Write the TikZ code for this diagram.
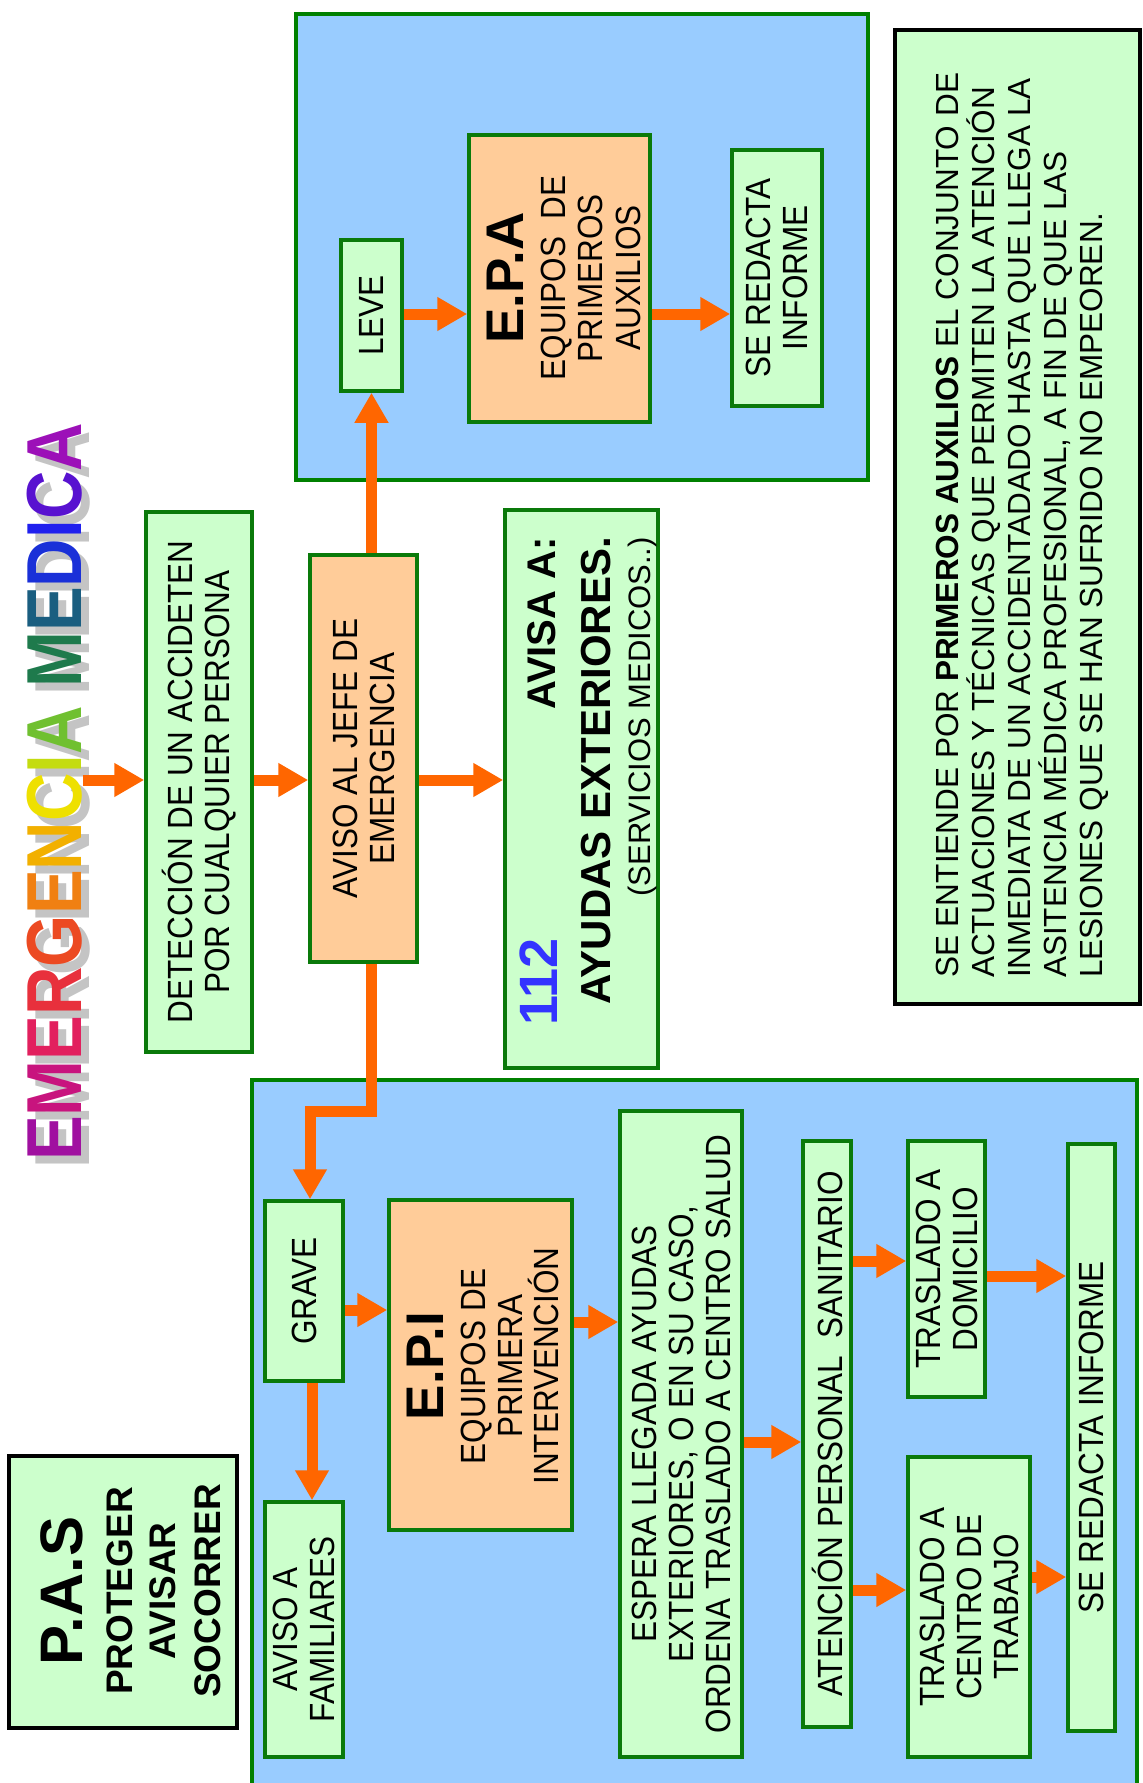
\documentclass[tikz,border=0pt]{standalone}
\usepackage{fontspec}
\setmainfont{Liberation Sans}
\newfontfamily\narrowf{Liberation Sans}[FakeStretch=0.9]
\newfontfamily\notef{Liberation Sans}[FakeStretch=0.985]
\newfontfamily\titlef{Liberation Sans}[FakeStretch=0.86]
\usetikzlibrary{arrows.meta}
\definecolor{pblue}{HTML}{99CCFF}
\definecolor{pgreen}{HTML}{008000}
\definecolor{bgreen}{HTML}{0A7A0A}
\definecolor{lgreen}{HTML}{CCFFCC}
\definecolor{lorange}{HTML}{FFCC99}
\definecolor{arrorg}{HTML}{FF6600}
\definecolor{n112}{HTML}{3333FF}
\definecolor{shadowgray}{HTML}{C4C4C4}
\definecolor{tca}{HTML}{A010A0}
\definecolor{tcb}{HTML}{C8147E}
\definecolor{tcc}{HTML}{E2205E}
\definecolor{tcd}{HTML}{E8303C}
\definecolor{tce}{HTML}{EC4A22}
\definecolor{tcf}{HTML}{F08012}
\definecolor{tcg}{HTML}{F2B000}
\definecolor{tch}{HTML}{EEE000}
\definecolor{tci}{HTML}{C4DC10}
\definecolor{tcj}{HTML}{70C030}
\definecolor{tck}{HTML}{1E7A4C}
\definecolor{tcl}{HTML}{1A5E80}
\definecolor{tcm}{HTML}{1A30D8}
\definecolor{tcn}{HTML}{2020EE}
\definecolor{tco}{HTML}{5812D0}
\definecolor{tcp}{HTML}{9C10B8}
\begin{document}
\begin{tikzpicture}[x=1pt,y=-1pt,
  gbox/.style={draw=bgreen,line width=3.5pt,fill=lgreen,inner sep=0pt},
  obox/.style={gbox,fill=lorange},
  panel/.style={draw=pgreen,line width=3.5pt,fill=pblue,inner sep=0pt},
  kbox/.style={draw=black,line width=4pt,fill=lgreen,inner sep=0pt},
  txt/.style={rotate=90,inner sep=0pt,align=center,font=\narrowf\fontsize{35}{37}\selectfont},
  ltxt/.style={rotate=90,inner sep=0pt,font=\narrowf\fontsize{35}{37}\selectfont},
  ntxt/.style={rotate=90,inner sep=0pt,anchor=base west,font=\notef\fontsize{32}{36}\selectfont},
  btxt/.style={rotate=90,inner sep=0pt,font=\bfseries\fontsize{#1}{#1}\selectfont},
  ttl/.style={rotate=90,inner sep=0pt,font=\titlef\bfseries\fontsize{78}{80}\selectfont},
  arr/.style={draw=arrorg,line width=11pt,line join=miter,-{Triangle[length=30pt,width=32pt]}}
]
\fill[white] (0,0) rectangle (1143,1783);
\useasboundingbox (0,0) rectangle (1143,1783);

% row coordinates for connectors
\coordinate (rA) at (0,780);
\coordinate (rB) at (0,314);
\coordinate (rC) at (0,1310);
\coordinate (rD) at (0,1322);
\coordinate (rE) at (0,1442);
\coordinate (rF) at (0,1261);
\coordinate (rG) at (0,1590);
\coordinate (rH) at (0,1276);
\coordinate (rI) at (0,1577);
\coordinate (kink) at (0,1111);

% title
\node[ttl,text=shadowgray] (titleS) at (63,800) {EMERGENCIA MEDICA};
\node[ttl] (title) at (55,792) {\textcolor{tca}{E}\textcolor{tcb}{M}\textcolor{tcc}{E}\textcolor{tcd}{R}\textcolor{tce}{G}\textcolor{tcf}{E}\textcolor{tcg}{N}\textcolor{tch}{C}\textcolor{tci}{I}\textcolor{tcj}{A} \textcolor{tck}{M}\textcolor{tcl}{E}\textcolor{tcm}{D}\textcolor{tcn}{I}\textcolor{tco}{C}\textcolor{tcp}{A}};

% panels
\node[panel,minimum width=572pt,minimum height=466pt] (toppanel) at (582,247) {};
\node[panel,minimum width=885pt,minimum height=710pt] (botpanel) at (694.5,1435) {};

% boxes
\node[gbox,minimum width=106pt,minimum height=540pt] (det) at (199,782) {};
\node[obox,minimum width=107pt,minimum height=407pt] (jefe) at (363.5,758.5) {};
\node[gbox,minimum width=153pt,minimum height=558pt] (b112) at (581.5,789) {};
\node[gbox,minimum width=61pt,minimum height=151pt] (leve) at (371.5,315.5) {};
\node[obox,minimum width=181pt,minimum height=287pt] (epa) at (559.5,278.5) {};
\node[gbox,minimum width=90pt,minimum height=256pt] (srtop) at (777,278) {};
\node[kbox,minimum width=245pt,minimum height=974pt] (note) at (1017.5,517) {};
\node[gbox,minimum width=78pt,minimum height=180pt] (grave) at (304,1291) {};
\node[gbox,minimum width=78pt,minimum height=255pt] (fam) at (304,1629.5) {};
\node[obox,minimum width=183pt,minimum height=330pt] (epi) at (480.5,1365) {};
\node[gbox,minimum width=122pt,minimum height=646pt] (espera) at (681,1434) {};
\node[gbox,minimum width=48pt,minimum height=586pt] (aten) at (827,1434) {};
\node[gbox,minimum width=77pt,minimum height=256pt] (domi) at (946.5,1269) {};
\node[gbox,minimum width=122pt,minimum height=300pt] (centro) at (969,1607) {};
\node[gbox,minimum width=47pt,minimum height=587pt] (srbot) at (1091.5,1437.5) {};
\node[kbox,minimum width=228pt,minimum height=272pt] (pas) at (123,1592) {};

% texts
\node[txt] (detT) at (det.center) {DETECCIÓN DE UN ACCIDETEN\\POR CUALQUIER PERSONA};
\node[txt] (jefeT) at (jefe.center) {AVISO AL JEFE DE\\EMERGENCIA};
\node[btxt=54,text=n112,anchor=base west] (t112) at (557,1026) {112};
\node[btxt=40,anchor=base east] (tavisa) at (555,537) {AVISA A:};
\node[btxt=42,anchor=base east] (tayudas) at (610,537) {AYUDAS EXTERIORES.};
\node[rotate=90,inner sep=0pt,font=\fontsize{31}{31}\selectfont,anchor=base east] (tserv) at (650,537) {(SERVICIOS MEDICOS..)};
\node[txt] (leveT) at (leve.center) {LEVE};
\node[btxt=53,anchor=base] (epa1) at (523,278) {E.P.A};
\node[ltxt,anchor=base] (epa2) at (565,278) {EQUIPOS\hspace{0.5em}DE};
\node[ltxt,anchor=base] (epa3) at (602,278) {PRIMEROS};
\node[ltxt,anchor=base] (epa4) at (640,278) {AUXILIOS};
\node[txt] (srtopT) at (srtop.center) {SE REDACTA\\INFORME};
\node[txt] (graveT) at (grave.center) {GRAVE};
\node[txt] (famT) at (fam.center) {AVISO A\\FAMILIARES};
\node[btxt=53,anchor=base] (epi1) at (443,1366) {E.P.I};
\node[ltxt,anchor=base] (epi2) at (485,1366) {EQUIPOS DE};
\node[ltxt,anchor=base] (epi3) at (522,1366) {PRIMERA};
\node[ltxt,anchor=base] (epi4) at (558,1366) {INTERVENCIÓN};
\node[txt] (esperaT) at (espera.center) {ESPERA LLEGADA AYUDAS\\EXTERIORES, O EN SU CASO,\\ORDENA TRASLADO A CENTRO SALUD};
\node[txt] (atenT) at (aten.center) {ATENCIÓN PERSONAL\hspace{0.5em}SANITARIO};
\node[txt] (domiT) at (domi.center) {TRASLADO A\\DOMICILIO};
\node[txt] (centroT) at (centro.center) {TRASLADO A\\CENTRO DE\\TRABAJO};
\node[txt] (srbotT) at (srbot.center) {SE REDACTA INFORME};
\node[ntxt] (n1) at (958,978) {SE ENTIENDE POR \textbf{PRIMEROS AUXILIOS} EL CONJUNTO DE};
\node[ntxt] (n2) at (994,978) {ACTUACIONES Y TÉCNICAS QUE PERMITEN LA ATENCIÓN};
\node[ntxt] (n3) at (1030,978) {INMEDIATA DE UN ACCIDENTADADO HASTA QUE LLEGA LA};
\node[ntxt] (n4) at (1066,978) {ASITENCIA MÉDICA PROFESIONAL, A FIN DE QUE LAS};
\node[ntxt] (n5) at (1102,978) {LESIONES QUE SE HAN SUFRIDO NO EMPEOREN.};
\node[btxt=60,anchor=base] (pas1) at (82,1591) {P.A.S};
\node[btxt=37,anchor=base] (pas2) at (132,1591) {PROTEGER};
\node[btxt=37,anchor=base] (pas3) at (175,1591) {AVISAR};
\node[btxt=37,anchor=base] (pas4) at (220,1591) {SOCORRER};

% connectors
\draw[arr] (title.south |- rA) -- (det.west |- rA);
\draw[arr] (det.east |- rA) -- (jefe.west |- rA);
\draw[arr] (jefe.east |- rA) -- (b112.west |- rA);
\draw[arr] (jefe.north -| leve.south) -- (leve.south);
\draw[arr] (jefe.south -| leve.south) -- (leve.south |- kink) -| ([xshift=6pt]grave.north);
\draw[arr] ([xshift=8pt]grave.south) -- ([xshift=8pt]fam.north);
\draw[arr] (leve.east |- rB) -- (epa.west |- rB);
\draw[arr] (epa.east |- rB) -- (srtop.west |- rB);
\draw[arr] (grave.east |- rC) -- (epi.west |- rC);
\draw[arr] (epi.east |- rD) -- (espera.west |- rD);
\draw[arr] (espera.east |- rE) -- (aten.west |- rE);
\draw[arr] (aten.east |- rF) -- (domi.west |- rF);
\draw[arr] (aten.east |- rG) -- (centro.west |- rG);
\draw[arr] (domi.east |- rH) -- (srbot.west |- rH);
\draw[arr] (centro.east |- rI) -- (srbot.west |- rI);
\end{tikzpicture}
\end{document}
